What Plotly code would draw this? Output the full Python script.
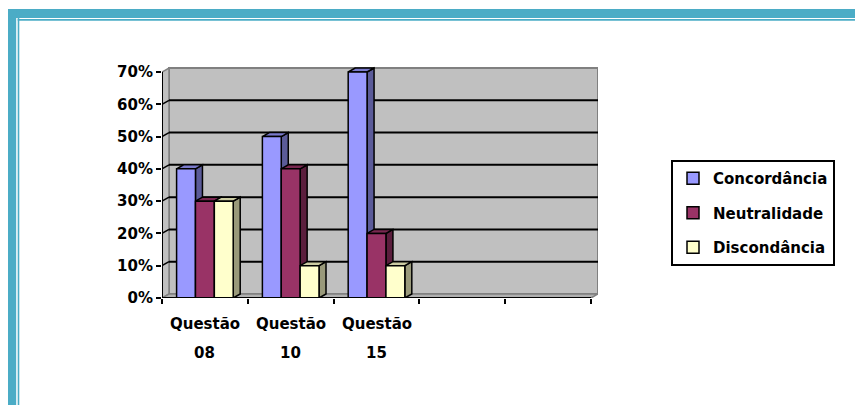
import plotly.graph_objects as go

# ---- data ----
categories = ["Questão 08", "Questão 10", "Questão 15"]
series_names = ["Concordância", "Neutralidade", "Discondância"]
concordancia = [0.40, 0.50, 0.70]
neutralidade = [0.30, 0.40, 0.20]
discordancia = [0.30, 0.10, 0.10]
y_ticks = [0.0, 0.1, 0.2, 0.3, 0.4, 0.5, 0.6, 0.7]
n_slots = 5  # category slots along the x axis (last two left empty)

series_values = [concordancia, neutralidade, discordancia]
front_colors = ["#9999FF", "#993366", "#FFFFCC"]

# ---- page geometry (pixels) ----
W, H = 855, 405
def px(x):
    return x / W
def py(y):
    return 1 - y / H

X0, X1 = 162, 591        # front x axis extent
Y0, Y1 = 298, 72         # front y of 0% and 70%
DX, DY = 7, 4            # 3-D depth offset
YMAX = y_ticks[-1]

cat_w = (X1 - X0) / n_slots
unit_h = (Y0 - Y1) / YMAX
ddx = DX / cat_w
ddy = DY / unit_h
x_lo = -0.5
x_hi = x_lo + n_slots
x_range = [x_lo, x_lo + (X1 + DX - X0) / cat_w]
y_range = [0, (Y0 - (Y1 - DY - 2)) / unit_h]

bargap = 0.34
bw = (1 - bargap) / len(series_values)


def shade(hex_color, f):
    h = hex_color.lstrip("#")
    r, g, b = (int(h[i:i + 2], 16) for i in (0, 2, 4))
    return "#%02X%02X%02X" % (int(r * f), int(g * f), int(b * f))


FONT = dict(family="DejaVu Sans", size=15, color="black", weight="bold")
EDGE = dict(color="black", width=1.5)

fig = go.Figure()

# side and top faces of each bar (behind the front faces)
for k, (name, vals, col) in enumerate(zip(series_names, series_values, front_colors)):
    side_x, side_y, top_x, top_y = [], [], [], []
    for i, v in enumerate(vals):
        xl = i - (1 - bargap) / 2 + k * bw
        xr = xl + bw
        side_x += [xr, xr, xr + ddx, xr + ddx, xr, None]
        side_y += [0, v, v + ddy, ddy, 0, None]
        top_x += [xl, xr, xr + ddx, xl + ddx, xl, None]
        top_y += [v, v, v + ddy, v + ddy, v, None]
    fig.add_trace(go.Scatter(x=side_x, y=side_y, mode="lines", fill="toself",
                             fillcolor=shade(col, 0.6), line=EDGE,
                             hoverinfo="skip", showlegend=False, legendgroup=name))
    fig.add_trace(go.Scatter(x=top_x, y=top_y, mode="lines", fill="toself",
                             fillcolor=shade(col, 0.8), line=EDGE,
                             hoverinfo="skip", showlegend=False, legendgroup=name))

# front faces of the bars
for k, (name, vals, col) in enumerate(zip(series_names, series_values, front_colors)):
    fig.add_trace(go.Bar(
        x=list(range(len(categories))), y=vals, name=name, legendgroup=name,
        width=bw, offset=-(1 - bargap) / 2 + k * bw,
        marker=dict(color=col, line=dict(color="black", width=1.5)),
        xaxis="x2", yaxis="y2",
        hovertemplate="%{y:.0%}<extra>" + name + "</extra>",
    ))

# ---- 3-D walls, floor and grid ----
shapes = []
WALL = "#C0C0C0"
WALL_EDGE = "#808080"
shapes.append(dict(type="rect", xref="x", yref="y", layer="below",
                   x0=x_lo + ddx, x1=x_hi + ddx, y0=ddy, y1=YMAX + ddy,
                   fillcolor=WALL, line=dict(color=WALL_EDGE, width=2)))
shapes.append(dict(type="path", xref="x", yref="y", layer="below",
                   path=f"M {x_lo},0 L {x_lo},{YMAX} L {x_lo + ddx},{YMAX + ddy} L {x_lo + ddx},{ddy} Z",
                   fillcolor=WALL, line=dict(color=WALL_EDGE, width=1.5)))
shapes.append(dict(type="path", xref="x", yref="y", layer="below",
                   path=f"M {x_lo},0 L {x_hi},0 L {x_hi + ddx},{ddy} L {x_lo + ddx},{ddy} Z",
                   fillcolor="#B0B0B0", line=dict(color=WALL_EDGE, width=1.5)))
for t in y_ticks[1:-1]:
    shapes.append(dict(type="line", xref="x", yref="y", layer="below",
                       x0=x_lo + ddx, x1=x_hi + ddx, y0=t + ddy, y1=t + ddy,
                       line=dict(color="black", width=2)))
    shapes.append(dict(type="line", xref="x", yref="y", layer="below",
                       x0=x_lo, x1=x_lo + ddx, y0=t, y1=t + ddy,
                       line=dict(color="black", width=1.5)))
# front axis lines
shapes.append(dict(type="line", xref="x", yref="y", layer="above",
                   x0=x_lo, x1=x_hi, y0=0, y1=0, line=dict(color="black", width=2)))
shapes.append(dict(type="line", xref="x", yref="y", layer="above",
                   x0=x_lo, x1=x_lo, y0=0, y1=YMAX, line=dict(color="black", width=2)))

# ---- teal page frame ----
TEAL = "#4BACC6"
shapes += [
    dict(type="rect", xref="paper", yref="paper", x0=px(8), x1=px(W + 2), y0=py(9), y1=py(18),
         fillcolor=TEAL, line_width=0, layer="above"),
    dict(type="rect", xref="paper", yref="paper", x0=px(17.7), x1=px(W + 2), y0=py(19), y1=py(20.7),
         fillcolor=TEAL, line_width=0, layer="above"),
    dict(type="rect", xref="paper", yref="paper", x0=px(8), x1=px(16.2), y0=py(9), y1=py(H + 2),
         fillcolor=TEAL, line_width=0, layer="above"),
    dict(type="rect", xref="paper", yref="paper", x0=px(17.7), x1=px(19.3), y0=py(17.7), y1=py(H + 2),
         fillcolor=TEAL, line_width=0, layer="above"),
]

# ---- category labels (two lines each) ----
annotations = []
for i, cat in enumerate(categories):
    first, second = cat.split(" ", 1)
    annotations.append(dict(x=i, xref="x", y=py(324), yref="paper", text=first,
                            showarrow=False, font=FONT, xanchor="center", yanchor="middle"))
    annotations.append(dict(x=i, xref="x", y=py(353), yref="paper", text=second,
                            showarrow=False, font=FONT, xanchor="center", yanchor="middle"))

x_dom = [px(X0), px(X1 + DX)]
y_dom = [py(Y0), py(Y1 - DY - 2)]

fig.update_layout(
    template="none",
    width=W, height=H, autosize=False,
    margin=dict(l=0, r=0, t=0, b=0, pad=0),
    paper_bgcolor="white", plot_bgcolor="rgba(0,0,0,0)",
    barmode="overlay",
    font=FONT,
    xaxis=dict(domain=x_dom, range=x_range, type="linear",
               tickmode="array", tickvals=[x_lo + j for j in range(n_slots + 1)],
               showticklabels=False, ticks="outside", ticklen=5, tickwidth=2,
               tickcolor="black", showgrid=False, zeroline=False, showline=False,
               automargin=False),
    yaxis=dict(domain=y_dom, range=y_range, tickmode="array", tickvals=y_ticks,
               tickformat=".0%", ticks="outside", ticklen=5, tickwidth=2,
               tickcolor="black", tickfont=FONT, showgrid=False, zeroline=False,
               showline=False, automargin=False),
    xaxis2=dict(overlaying="x", range=x_range, visible=False, type="linear"),
    yaxis2=dict(overlaying="y", range=y_range, visible=False),
    legend=dict(x=px(671), y=py(160), xanchor="left", yanchor="top",
                bgcolor="white", bordercolor="black", borderwidth=2,
                font=FONT, tracegroupgap=12, traceorder="grouped"),
    shapes=shapes,
    annotations=annotations,
)

fig.write_html("out.html")
